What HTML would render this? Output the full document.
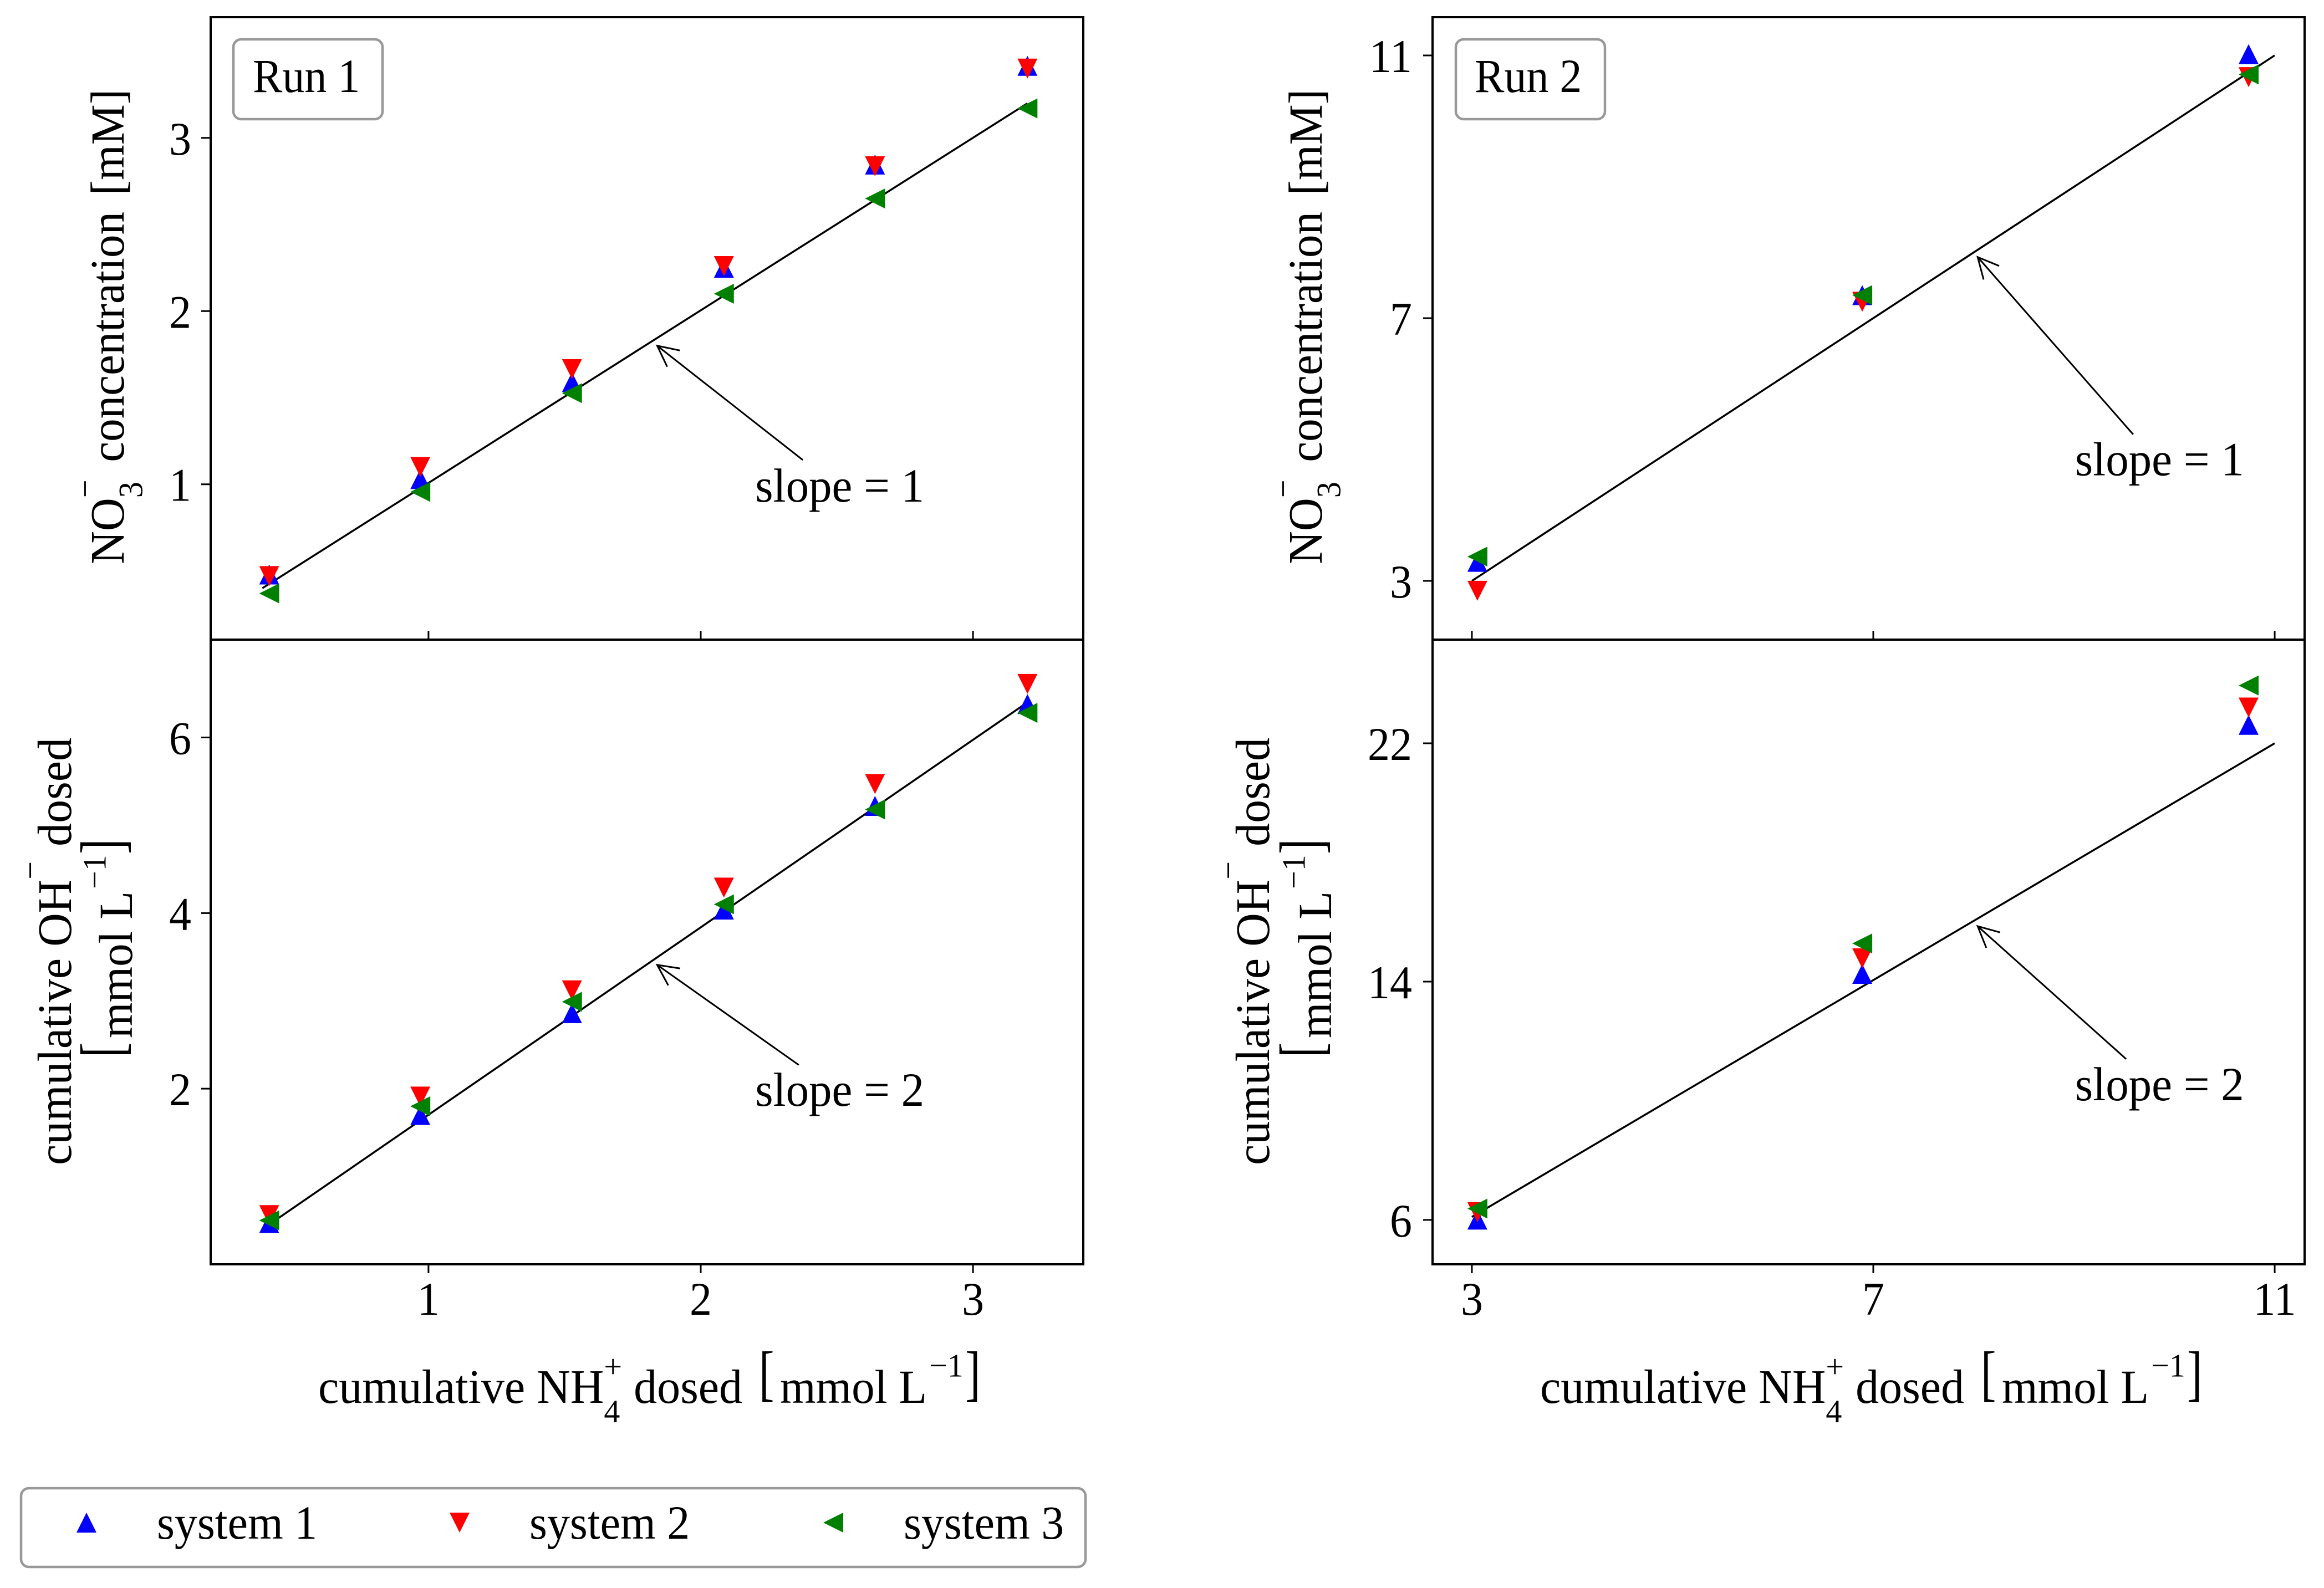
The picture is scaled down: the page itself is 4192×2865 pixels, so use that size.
<!DOCTYPE html>
<html lang="en">
<head>
<meta charset="utf-8">
<title>Nitrate and hydroxide versus ammonium dosed</title>
<style>
html,body{margin:0;padding:0;background:#fff;}
svg{display:block;}
text{font-family:"Liberation Serif",serif;font-size:80px;fill:#000;white-space:pre;}
.f83{font-size:83px;}
.f84{font-size:84px;}
.f82{font-size:82px;}
.br{font-size:110px;}
.s{font-size:58px;}
</style>
</head>
<body>
<svg id="chart" xmlns="http://www.w3.org/2000/svg" width="4192" height="2865" viewBox="0 0 4192 2865">
  <rect width="4192" height="2865" fill="#fff"/>
  <g id="panels"></g>

  <g>
    <rect x="421" y="71" width="269" height="144" rx="14" fill="#fff" stroke="#999" stroke-width="4.5"/>
    <text transform="translate(456,166) scale(1,1.07)">Run 1</text>
  </g>
  <g>
    <rect x="2626" y="71" width="269" height="144" rx="14" fill="#fff" stroke="#999" stroke-width="4.5"/>
    <text transform="translate(2660,166) scale(1,1.07)">Run 2</text>
  </g>

  <text class="f83" transform="translate(223,1018) rotate(-90) scale(1,1.05)" xml:space="preserve">NO<tspan class="s" dy="32">3</tspan><tspan class="s" dx="-29" dy="-79">−</tspan><tspan dx="11" dy="47"> concentration </tspan><tspan dx="9" style="font-size:82px">[mM]</tspan></text>
  <text class="f83" transform="translate(2384,1018) rotate(-90) scale(1,1.05)" xml:space="preserve">NO<tspan class="s" dy="32">3</tspan><tspan class="s" dx="-29" dy="-79">−</tspan><tspan dx="11" dy="47"> concentration </tspan><tspan dx="9" style="font-size:82px">[mM]</tspan></text>

  <text class="f84" transform="translate(128,2102) rotate(-90) scale(1,1.03)" xml:space="preserve">cumulative OH<tspan class="s" dy="-52">−</tspan><tspan dx="6" dy="52"> dosed</tspan></text>
  <g transform="translate(238,1901) rotate(-90)">
    <text class="br" transform="translate(-7,-17) scale(.75,1)">[</text>
    <text class="f83" transform="translate(28,0) scale(1,1.03)" xml:space="preserve">mmol L<tspan class="s" dx="4" dy="-46">−1</tspan></text>
    <text class="br" transform="translate(360,-17) scale(.75,1)">]</text>
  </g>
  <text class="f84" transform="translate(2289,2102) rotate(-90) scale(1,1.03)" xml:space="preserve">cumulative OH<tspan class="s" dy="-52">−</tspan><tspan dx="6" dy="52"> dosed</tspan></text>
  <g transform="translate(2401,1901) rotate(-90)">
    <text class="br" transform="translate(-7,-17) scale(.75,1)">[</text>
    <text class="f83" transform="translate(28,0) scale(1,1.03)" xml:space="preserve">mmol L<tspan class="s" dx="4" dy="-46">−1</tspan></text>
    <text class="br" transform="translate(360,-17) scale(.75,1)">]</text>
  </g>

  <g>
    <text class="f84" transform="translate(574,2531) scale(1,1.03)" xml:space="preserve">cumulative NH<tspan class="s" dy="34">4</tspan><tspan class="s" dx="-29" dy="-78">+</tspan><tspan dy="44"> dosed</tspan></text>
    <text class="br" transform="translate(1369,2514) scale(.75,1)">[</text>
    <text class="f83" transform="translate(1407,2531) scale(1,1.03)" xml:space="preserve">mmol L<tspan class="s" dx="4" dy="-46">−1</tspan></text>
    <text class="br" transform="translate(1741,2514) scale(.75,1)">]</text>
  </g>
  <g>
    <text class="f84" transform="translate(2778,2531) scale(1,1.03)" xml:space="preserve">cumulative NH<tspan class="s" dy="34">4</tspan><tspan class="s" dx="-29" dy="-78">+</tspan><tspan dy="44"> dosed</tspan></text>
    <text class="br" transform="translate(3573,2514) scale(.75,1)">[</text>
    <text class="f83" transform="translate(3611,2531) scale(1,1.03)" xml:space="preserve">mmol L<tspan class="s" dx="4" dy="-46">−1</tspan></text>
    <text class="br" transform="translate(3945,2514) scale(.75,1)">]</text>
  </g>

  <g>
    <rect x="38" y="2685" width="1920" height="142" rx="14" fill="#fff" stroke="#999" stroke-width="4.5"/>
    <polygon points="156,2729 174,2765 138,2765" fill="#0000ff"/>
    <text class="f82" transform="translate(283,2776) scale(1,1.05)">system 1</text>
    <polygon points="811,2729 847,2729 829,2765" fill="#ff0000"/>
    <text class="f82" transform="translate(955,2776) scale(1,1.05)">system 2</text>
    <polygon points="1485,2747 1521,2729 1521,2765" fill="#008000"/>
    <text class="f82" transform="translate(1630,2776) scale(1,1.05)">system 3</text>
  </g>
</svg>

<script>
// Run 1 data
const run1Doses = [0.415, 0.97, 1.527, 2.085, 2.64, 3.2];
const run1NitrateSystem1 = [0.479, 1.03, 1.59, 2.25, 2.846, 3.416];
const run1NitrateSystem2 = [0.47, 1.10, 1.665, 2.26, 2.836, 3.40];
const run1NitrateSystem3 = [0.37, 0.956, 1.526, 2.10, 2.65, 3.17];
const run1HydroxideSystem1 = [0.47, 1.70, 2.86, 4.04, 5.22, 6.38];
const run1HydroxideSystem2 = [0.56, 1.91, 3.12, 4.29, 5.47, 6.61];
const run1HydroxideSystem3 = [0.50, 1.80, 2.99, 4.10, 5.18, 6.28];

// Run 2 data
const run2Doses = [3.055, 6.89, 10.74];
const run2NitrateSystem1 = [3.29, 7.35, 11.02];
const run2NitrateSystem2 = [2.85, 7.25, 10.67];
const run2NitrateSystem3 = [3.37, 7.35, 10.71];
const run2HydroxideSystem1 = [6.01, 14.26, 22.62];
const run2HydroxideSystem2 = [6.26, 14.78, 23.2];
const run2HydroxideSystem3 = [6.38, 15.28, 23.94];

// Axis ticks
const run1XTicks = [1, 2, 3];
const run1NitrateTicks = [1, 2, 3];
const run1HydroxideTicks = [2, 4, 6];
const run2XTicks = [3, 7, 11];
const run2NitrateTicks = [3, 7, 11];
const run2HydroxideTicks = [6, 14, 22];

// Reference lines
const run1NitrateLineX = [0.39, 3.2];
const run1NitrateLineY = [0.40, 3.2];
const run1HydroxideLineX = [0.39, 3.2];
const run1HydroxideLineY = [0.40, 6.4];
const run2NitrateLineX = [3, 11];
const run2NitrateLineY = [3, 11];
const run2HydroxideLineX = [3, 11];
const run2HydroxideLineY = [6.1, 22];

const SVG_NS = 'http://www.w3.org/2000/svg';
const systemNames = ['system-1', 'system-2', 'system-3'];
const systemColors = ['#0000ff', '#ff0000', '#008000'];

const panels = [
  { key: 'run-1-nitrate', box: [380, 31, 1954, 1154], xDomain: [0.2, 3.405], yDomain: [0.103, 3.697],
    doses: run1Doses, series: [run1NitrateSystem1, run1NitrateSystem2, run1NitrateSystem3],
    lineX: run1NitrateLineX, lineY: run1NitrateLineY, xTicks: run1XTicks, yTicks: run1NitrateTicks, xLabels: false, labelEdge: 345,
    note: 'slope = 1', tip: [1.84, 1.80], tail: [2.375, 1.14], noteAt: [2.2, 0.9] },
  { key: 'run-1-hydroxide', box: [380, 1154, 1954, 2281], xDomain: [0.2, 3.405], yDomain: [0, 7.114],
    doses: run1Doses, series: [run1HydroxideSystem1, run1HydroxideSystem2, run1HydroxideSystem3],
    lineX: run1HydroxideLineX, lineY: run1HydroxideLineY, xTicks: run1XTicks, yTicks: run1HydroxideTicks, xLabels: true, labelEdge: 345,
    note: 'slope = 2', tip: [1.84, 3.41], tail: [2.36, 2.27], noteAt: [2.2, 1.805] },
  { key: 'run-2-nitrate', box: [2584, 31, 4157, 1154], xDomain: [2.608, 11.298], yDomain: [2.106, 11.582],
    doses: run2Doses, series: [run2NitrateSystem1, run2NitrateSystem2, run2NitrateSystem3],
    lineX: run2NitrateLineX, lineY: run2NitrateLineY, xTicks: run2XTicks, yTicks: run2NitrateTicks, xLabels: false, labelEdge: 2547,
    note: 'slope = 1', tip: [8.04, 7.93], tail: [9.59, 5.23], noteAt: [9.01, 4.61] },
  { key: 'run-2-hydroxide', box: [2584, 1154, 4157, 2281], xDomain: [2.608, 11.298], yDomain: [4.51, 25.48],
    doses: run2Doses, series: [run2HydroxideSystem1, run2HydroxideSystem2, run2HydroxideSystem3],
    lineX: run2HydroxideLineX, lineY: run2HydroxideLineY, xTicks: run2XTicks, yTicks: run2HydroxideTicks, xLabels: true, labelEdge: 2547,
    note: 'slope = 2', tip: [8.04, 15.86], tail: [9.52, 11.4], noteAt: [9.01, 10.02] }
];

function make(tag, parent) {
  const el = document.createElementNS(SVG_NS, tag);
  parent.appendChild(el);
  return el;
}
function linePath(el, x1, y1, x2, y2, width) {
  el.setAttribute('x1', x1);
  el.setAttribute('y1', y1);
  el.setAttribute('x2', x2);
  el.setAttribute('y2', y2);
  el.setAttribute('stroke', '#000');
  el.setAttribute('stroke-width', width);
}
function trianglePoints(kind, cx, cy) {
  const r = 18;
  if (kind === 0) return (cx) + ',' + (cy - r) + ' ' + (cx + r) + ',' + (cy + r) + ' ' + (cx - r) + ',' + (cy + r);
  if (kind === 1) return (cx - r) + ',' + (cy - r) + ' ' + (cx + r) + ',' + (cy - r) + ' ' + (cx) + ',' + (cy + r);
  return (cx - r) + ',' + (cy) + ' ' + (cx + r) + ',' + (cy - r) + ' ' + (cx + r) + ',' + (cy + r);
}

const root = document.getElementById('panels');

panels.forEach(function (p) {
  const left = p.box[0], top = p.box[1], right = p.box[2], bottom = p.box[3];
  const xScale = function (v) { return left + (v - p.xDomain[0]) / (p.xDomain[1] - p.xDomain[0]) * (right - left); };
  const yScale = function (v) { return bottom - (v - p.yDomain[0]) / (p.yDomain[1] - p.yDomain[0]) * (bottom - top); };

  const group = make('g', root);
  
  

  const refLine = make('line', group);
  
  
  linePath(refLine, xScale(p.lineX[0]), yScale(p.lineY[0]), xScale(p.lineX[1]), yScale(p.lineY[1]), 3.5);

  p.series.forEach(function (values, s) {
    const seriesGroup = make('g', group);
    
    
    values.forEach(function (v, i) {
      const mark = make('polygon', seriesGroup);
      
      
      mark.setAttribute('points', trianglePoints(s, xScale(p.doses[i]), yScale(v)));
      mark.setAttribute('fill', systemColors[s]);
    });
  });

  const frame = make('rect', group);
  
  
  frame.setAttribute('x', left);
  frame.setAttribute('y', top);
  frame.setAttribute('width', right - left);
  frame.setAttribute('height', bottom - top);
  frame.setAttribute('fill', 'none');
  frame.setAttribute('stroke', '#000');
  frame.setAttribute('stroke-width', 4);

  p.xTicks.forEach(function (t) {
    const tick = make('line', group);
    
    
    const tx = xScale(t);
    if (p.xLabels) {
      linePath(tick, tx, bottom, tx, bottom + 16, 3);
      const label = make('text', group);
      
      
      label.setAttribute('transform', 'translate(' + tx + ',2372) scale(1,1.055)');
      label.setAttribute('text-anchor', 'middle');
      label.textContent = t;
    } else {
      linePath(tick, tx, bottom, tx, bottom - 16, 3);
    }
  });

  p.yTicks.forEach(function (t) {
    const tick = make('line', group);
    
    
    const ty = yScale(t);
    linePath(tick, left, ty, left - 17, ty, 3);
    const label = make('text', group);
    
    
    label.setAttribute('transform', 'translate(' + p.labelEdge + ',' + (ty + 30) + ') scale(1,1.055)');
    label.setAttribute('text-anchor', 'end');
    label.textContent = t;
  });

  const tipX = xScale(p.tip[0]), tipY = yScale(p.tip[1]);
  const tailX = xScale(p.tail[0]), tailY = yScale(p.tail[1]);
  const angle = Math.atan2(tailY - tipY, tailX - tipX);
  const arrow = make('path', group);
  
  
  const headLength = 42, spread = 0.46;
  arrow.setAttribute('d',
    'M' + tailX + ' ' + tailY + 'L' + tipX + ' ' + tipY +
    'M' + (tipX + headLength * Math.cos(angle - spread)) + ' ' + (tipY + headLength * Math.sin(angle - spread)) +
    'L' + tipX + ' ' + tipY +
    'L' + (tipX + headLength * Math.cos(angle + spread)) + ' ' + (tipY + headLength * Math.sin(angle + spread)));
  arrow.setAttribute('fill', 'none');
  arrow.setAttribute('stroke', '#000');
  arrow.setAttribute('stroke-width', 3);

  const note = make('text', group);
  
  
  note.setAttribute('class', 'f83');
  note.setAttribute('transform', 'translate(' + xScale(p.noteAt[0]) + ',' + yScale(p.noteAt[1]) + ') scale(1,1.04)');
  note.textContent = p.note;
});
</script>
</body>
</html>
